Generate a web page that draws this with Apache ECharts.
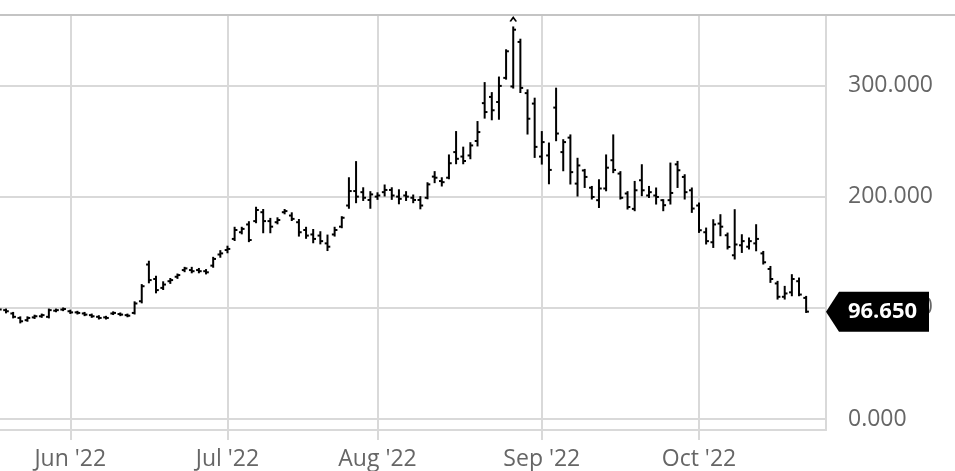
<!DOCTYPE html>
<html>
<head>
<meta charset="utf-8">
<script src="https://cdn.jsdelivr.net/npm/echarts@6/dist/echarts.min.js"></script>
<style>
html,body{margin:0;padding:0;background:#fff;}
#chart{width:955px;height:471px;}
</style>
</head>
<body>
<div id="chart"></div>
<script>
const dates = [
'2022-05-18','2022-05-19','2022-05-20','2022-05-23','2022-05-24','2022-05-25','2022-05-26','2022-05-27','2022-05-30','2022-05-31',
'2022-06-01','2022-06-02','2022-06-03','2022-06-06','2022-06-07','2022-06-08','2022-06-09','2022-06-10','2022-06-13','2022-06-14','2022-06-15','2022-06-16','2022-06-17','2022-06-20','2022-06-21','2022-06-22','2022-06-23','2022-06-24','2022-06-27','2022-06-28','2022-06-29','2022-06-30',
'2022-07-01','2022-07-04','2022-07-05','2022-07-06','2022-07-07','2022-07-08','2022-07-11','2022-07-12','2022-07-13','2022-07-14','2022-07-15','2022-07-18','2022-07-19','2022-07-20','2022-07-21','2022-07-22','2022-07-25','2022-07-26','2022-07-27','2022-07-28','2022-07-29',
'2022-08-01','2022-08-02','2022-08-03','2022-08-04','2022-08-05','2022-08-08','2022-08-09','2022-08-10','2022-08-11','2022-08-12','2022-08-15','2022-08-16','2022-08-17','2022-08-18','2022-08-19','2022-08-22','2022-08-23','2022-08-24','2022-08-25','2022-08-26','2022-08-29','2022-08-30','2022-08-31',
'2022-09-01','2022-09-02','2022-09-05','2022-09-06','2022-09-07','2022-09-08','2022-09-09','2022-09-12','2022-09-13','2022-09-14','2022-09-15','2022-09-16','2022-09-19','2022-09-20','2022-09-21','2022-09-22','2022-09-23','2022-09-26','2022-09-27','2022-09-28','2022-09-29','2022-09-30',
'2022-10-03','2022-10-04','2022-10-05','2022-10-06','2022-10-07','2022-10-10','2022-10-11','2022-10-12','2022-10-13','2022-10-14','2022-10-17','2022-10-18','2022-10-19','2022-10-20','2022-10-21','2022-10-24'
];
const open = [
99.5,98,95,91,89,91.5,92.5,92,97.5,98.5,
97,96,95,93.5,92,91.5,95,94.5,93.5,95.5,106,139,126,118,124,128,134,134,134,133,138,148,
152,162,168,175,178,186,178,177,186,183,177,170,166,165,158,166,173,192,205,204,197,
200,204,206,200,201,199,197,199,218,214,217,240,236,237,250,284,289.6,285,306.7,299,339,293,283.6,
236,237,280,240,253,211.7,223.5,208,196.8,207.3,232.7,220.7,202.8,189,214.7,201,201,196.8,196.8,229,217.7,205.7,
192,168,159,175.8,165.3,147.3,156.3,155,158,149,135,122,110,114,124,109
];
const high = [
100.5,98.5,95.5,91.5,91.5,93,94,98.5,98.5,99.5,
97.5,96.5,95.5,94,92.5,92,96,95,94,105,120.5,141.5,128,123,126,130,136,136,135,134,145,151,
155,172,172,177,190,188,180,180.5,188,185,179,172,170,168,165,172,181.5,216.5,231,207.5,204,
203,210,207.5,205.7,204,201,199.5,212,222,216.5,237,258,244,248,267,302,293,307,331.5,352,341,295.5,288,
258,247.7,297,250.7,255,234,224,208.7,214.7,237,255,222,204,213.2,228.2,208.7,207.3,196.8,229.7,231.2,219.2,207.3,
193.8,171.3,178.8,183.3,166.8,187.8,165.3,162.4,174.3,150.3,136.8,123.4,118.9,129.4,126.4,109.9
];
const low = [
98,96,91.5,87,88.5,91,92,91.5,97,98,
95.5,95,93.5,92,90.5,90.5,94.5,93.5,92.5,95,105,123,114,117,122.5,127,133,132,132,131,137,146,
150,161,167,160,177,168,168,176,185,179,165,163,159,158,152,165,172.5,190,195,197,190,
198,201,198,194,197,195,189.5,198.5,213,210,216.5,230,230,234.5,246,271,269.5,270,306,298,294,256.7,235.7,
229.7,212,250.7,223.7,211.8,201,208.7,198.3,190.7,205.7,222,198.3,189.3,187.8,201.3,199.7,193.8,187.8,193.8,208.7,198.3,186.3,
168.3,157.9,154.8,165.3,153.4,144.4,150.3,153.4,151.8,139.9,123.4,108.4,108.4,111.4,111.4,96.4
];
const close = [
98.5,97,92,88,91,92.5,93.5,98,98,99,
96,95.5,94,92.5,91,91,95.5,94,93,104,119.5,125,116,121,125,129.5,135.5,133,133,132,144,149,
153,170,171,161,188,178,173,179,187,180,168,165,162,160,155,170,181,205,200,199,202,
201,206,201,198,200,197,192,211,217,213,230,234,232,246,258,276,277.6,299.5,330.6,350,297.7,270,244.7,
249,224,256.7,249,222,228,217.7,199.7,207.3,226,224,199,190.7,205.7,205.7,204,199.7,192.3,203.3,223.7,204,189.3,
169.8,160,175,173,154.8,157,160,160,162,141,126,110,113,126,112,96.65
];
const yTicks = [0, 100, 200, 300];
const lastPrice = 96.65;

const monthNames = ['Jan','Feb','Mar','Apr','May','Jun','Jul','Aug','Sep','Oct','Nov','Dec'];
const monthStarts = [];
for (let i = 1; i < dates.length; i++) {
  if (dates[i].slice(5, 7) !== dates[i - 1].slice(5, 7)) monthStarts.push(i);
}
const ohlc = dates.map((d, i) => [i, open[i], high[i], low[i], close[i]]);
let peakIdx = 0;
high.forEach((h, i) => { if (h > high[peakIdx]) peakIdx = i; });

const chart = echarts.init(document.getElementById('chart'), null, {renderer: 'canvas'});
const gridColor = '#d9d9d9';
const font = "'Open Sans', sans-serif";
chart.setOption({
  animation: false,
  backgroundColor: '#fff',
  grid: {left: 0, right: 129, top: 15, bottom: 41, containLabel: false},
  xAxis: {
    type: 'value',
    min: 0.16,
    max: 115.78,
    axisLine: {show: true, onZero: false, lineStyle: {color: gridColor, width: 2}},
    axisTick: {show: true, customValues: monthStarts, length: 10, lineStyle: {color: gridColor, width: 2}},
    splitLine: {show: true, lineStyle: {color: gridColor, width: 2}},
    axisLabel: {
      customValues: monthStarts,
      margin: 18,
      color: '#666',
      fontFamily: font,
      fontSize: 23,
      formatter: function (v) {
        const d = dates[Math.round(v)];
        return monthNames[parseInt(d.slice(5, 7), 10) - 1] + " '" + d.slice(2, 4);
      }
    }
  },
  yAxis: {
    type: 'value',
    position: 'right',
    min: -9.7,
    max: 363.2,
    axisLine: {show: true, lineStyle: {color: gridColor, width: 2}},
    axisTick: {show: false},
    splitLine: {show: true, lineStyle: {color: gridColor, width: 2}},
    axisLabel: {
      margin: 22,
      color: '#666',
      fontFamily: font,
      fontSize: 23,
      showMinLabel: false,
      showMaxLabel: false,
      formatter: function (v) {
        return yTicks.indexOf(Math.round(v * 1000) / 1000) >= 0 ? v.toFixed(3) : '';
      }
    }
  },
  graphic: [{
    type: 'line', silent: true, z: 10,
    shape: {x1: 0, y1: 15, x2: 955, y2: 15},
    style: {stroke: '#c4c4c4', lineWidth: 2}
  }],
  series: [{
    type: 'custom',
    clip: true,
    data: ohlc,
    encode: {x: 0, y: [1, 2, 3, 4]},
    renderItem: function (params, api) {
      const x = api.value(0);
      const o = api.coord([x, api.value(1)]);
      const h = api.coord([x, api.value(2)]);
      const l = api.coord([x, api.value(3)]);
      const c = api.coord([x, api.value(4)]);
      const t = 2.8;
      const st = {stroke: '#000', lineWidth: 2};
      return {
        type: 'group',
        children: [
          {type: 'line', shape: {x1: h[0], y1: h[1] - 1, x2: l[0], y2: l[1] + 1}, style: st},
          {type: 'line', shape: {x1: o[0] - t, y1: o[1], x2: o[0], y2: o[1]}, style: st},
          {type: 'line', shape: {x1: c[0], y1: c[1], x2: c[0] + t, y2: c[1]}, style: st}
        ]
      };
    },
    markPoint: {
      silent: true,
      data: [
        {
          coord: [115.78, lastPrice],
          symbol: 'path://M0,20 L13,0 L103,0 L103,40 L13,40 Z',
          symbolSize: [103, 40],
          symbolKeepAspect: false,
          symbolOffset: [51.5, 0],
          itemStyle: {color: '#000'},
          label: {
            show: true,
            position: 'inside',
            offset: [5, 0],
            formatter: lastPrice.toFixed(3),
            color: '#fff',
            fontFamily: font,
            fontWeight: 'bold',
            fontSize: 22
          }
        },
        {
          coord: [peakIdx, high[peakIdx]],
          symbol: 'path://M0,5 L3.5,0 L7,5',
          symbolSize: [6, 4],
          symbolOffset: [0, -8],
          itemStyle: {color: 'none', borderColor: '#000', borderWidth: 1.5},
          label: {show: false}
        }
      ]
    }
  }]
});
</script>
</body>
</html>
